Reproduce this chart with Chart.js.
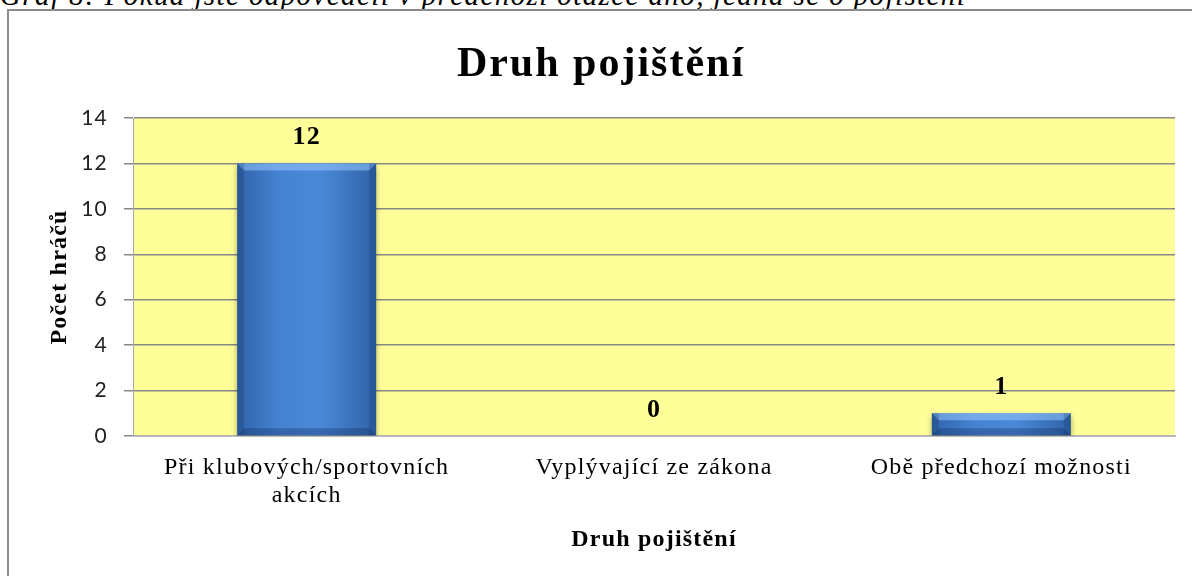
<!DOCTYPE html>
<html>
<head>
<meta charset="utf-8">
<script src="https://cdn.jsdelivr.net/npm/chart.js@4.4.1/dist/chart.umd.min.js"></script>
<style>
    body { margin: 0; background: #fff; overflow: hidden; }
    .caption {
        position: absolute; left: 0; top: -19px;
        font: italic 29px "Liberation Serif", "Times New Roman", serif;
        line-height: 29px; letter-spacing: 1.4px;
        white-space: nowrap; color: #000;
    }
    .frame {
        position: absolute; left: 7px; top: 9px; width: 1300px; height: 700px;
        border-left: 2px solid #8c8c8c; border-top: 2px solid #8c8c8c;
    }
    .wrap { position: absolute; left: 0; top: 0; width: 1192px; height: 576px; }
</style>
</head>
<body>
<div class="caption">Graf 8: Pokud jste odpověděli v předchozí otázce ano, jedná se o pojištění</div>
<div class="frame"></div>
<div class="wrap"><canvas id="insuranceChart" width="1192" height="576"></canvas></div>
<script>
const categories = [['Při klubových/sportovních', 'akcích'], 'Vyplývající ze zákona', 'Obě předchozí možnosti'];
const players = [12, 0, 1];
const yTicks = [0, 2, 4, 6, 8, 10, 12, 14];
const chartTitle = 'Druh pojištění';

const serif = '"Liberation Serif", "Times New Roman", serif';

// yellow plot area + wider letter spacing like the Word render
const plotBackground = {
    id: 'plotBackground',
    beforeDraw(chart) {
        const { ctx, chartArea: a } = chart;
        ctx.save();
        ctx.fillStyle = '#ffff99';
        ctx.fillRect(a.left, a.top, a.right - a.left, a.bottom - a.top);
        ctx.restore();
        ctx.letterSpacing = '1.2px';
    },
    afterDraw(chart) {
        const ctx = chart.ctx;
        ctx.save();
        ctx.letterSpacing = '2px';
        ctx.font = 'bold 42px ' + serif;
        ctx.fillStyle = '#000';
        ctx.textAlign = 'center';
        ctx.textBaseline = 'alphabetic';
        ctx.fillText(chartTitle, 601, 76);
        ctx.restore();
        ctx.letterSpacing = '0px';
    }
};

// shadow, bevel and value labels for the bars
const barShadow = {
    id: 'barShadow',
    beforeDatasetsDraw(chart) {
        const ctx = chart.ctx;
        ctx.save();
        ctx.shadowColor = 'rgba(0,0,0,0.35)';
        ctx.shadowBlur = 6;
        ctx.shadowOffsetY = 3;
    },
    afterDatasetsDraw(chart) {
        const ctx = chart.ctx;
        ctx.restore();
        chart.getDatasetMeta(0).data.forEach((bar, i) => {
            if (!players[i]) return;
            const l = bar.x - bar.width / 2, r = bar.x + bar.width / 2;
            const t = bar.y, b = bar.base;
            const bv = Math.min(7, (b - t) / 3);
            ctx.save();
            ctx.fillStyle = 'rgba(150,200,255,0.55)';
            ctx.beginPath();
            ctx.moveTo(l, t); ctx.lineTo(r, t); ctx.lineTo(r - bv, t + bv); ctx.lineTo(l + bv, t + bv);
            ctx.closePath(); ctx.fill();
            ctx.fillStyle = 'rgba(20,50,100,0.35)';
            ctx.beginPath();
            ctx.moveTo(l, b); ctx.lineTo(r, b); ctx.lineTo(r - bv, b - bv); ctx.lineTo(l + bv, b - bv);
            ctx.closePath(); ctx.fill();
            ctx.fillStyle = 'rgba(20,50,100,0.25)';
            ctx.fillRect(l, t, bv, b - t);
            ctx.fillRect(r - bv, t, bv, b - t);
            ctx.restore();
        });
        ctx.save();
        ctx.font = 'bold 26px ' + serif;
        ctx.fillStyle = '#000';
        ctx.textAlign = 'center';
        ctx.textBaseline = 'middle';
        chart.getDatasetMeta(0).data.forEach((bar, i) => {
            ctx.fillText(String(players[i]), bar.x, bar.y - 26);
        });
        ctx.restore();
    }
};

function barFill(context) {
    const chart = context.chart;
    const xs = chart.scales.x;
    if (!xs || !chart.chartArea) return '#3f78c4';
    const cx = xs.getPixelForValue(context.dataIndex);
    const half = (chart.chartArea.right - chart.chartArea.left) / categories.length * 0.4 / 2;
    const g = chart.ctx.createLinearGradient(cx - half, 0, cx + half, 0);
    g.addColorStop(0, '#2f63a8');
    g.addColorStop(0.3, '#4583d2');
    g.addColorStop(0.6, '#4a89d8');
    g.addColorStop(1, '#2f62a6');
    return g;
}

const ctx = document.getElementById('insuranceChart').getContext('2d');
new Chart(ctx, {
    type: 'bar',
    data: {
        labels: categories,
        datasets: [{
            data: players,
            backgroundColor: barFill,
            borderWidth: 0,
            categoryPercentage: 1,
            barPercentage: 0.4
        }]
    },
    options: {
        responsive: false,
        animation: false,
        layout: { padding: { left: 0, right: 17, top: 118, bottom: 0 } },
        plugins: {
            legend: { display: false },
            tooltip: { enabled: false },
            title: { display: false }
        },
        scales: {
            y: {
                min: 0,
                max: 14,
                afterFit(scale) { scale.width = 133; },
                afterBuildTicks(scale) { scale.ticks = yTicks.map(v => ({ value: v })); },
                ticks: {
                    color: '#222',
                    padding: 16,
                    font: { family: 'Lato, "Open Sans", sans-serif', size: 21 }
                },
                grid: { color: '#888', lineWidth: 1.5, tickLength: 9, drawTicks: true },
                border: { color: '#aaa', width: 1 },
                title: {
                    display: true,
                    text: 'Počet hráčů',
                    color: '#000',
                    font: { family: serif, size: 24, weight: 'bold', lineHeight: 1.2 },
                    padding: { top: 45, bottom: 45 }
                }
            },
            x: {
                afterFit(scale) { scale.height = 140; },
                ticks: {
                    color: '#000',
                    padding: 18,
                    maxRotation: 0,
                    autoSkip: false,
                    font: { family: serif, size: 24, lineHeight: 1.1667 }
                },
                grid: { display: false, drawTicks: false },
                border: { color: '#b4b4b4', width: 1.5 },
                title: {
                    display: true,
                    text: 'Druh pojištění',
                    color: '#000',
                    font: { family: serif, size: 24, weight: 'bold', lineHeight: 1.2 },
                    padding: { top: 22, bottom: 22 }
                }
            }
        }
    },
    plugins: [plotBackground, barShadow]
});
</script>
</body>
</html>
